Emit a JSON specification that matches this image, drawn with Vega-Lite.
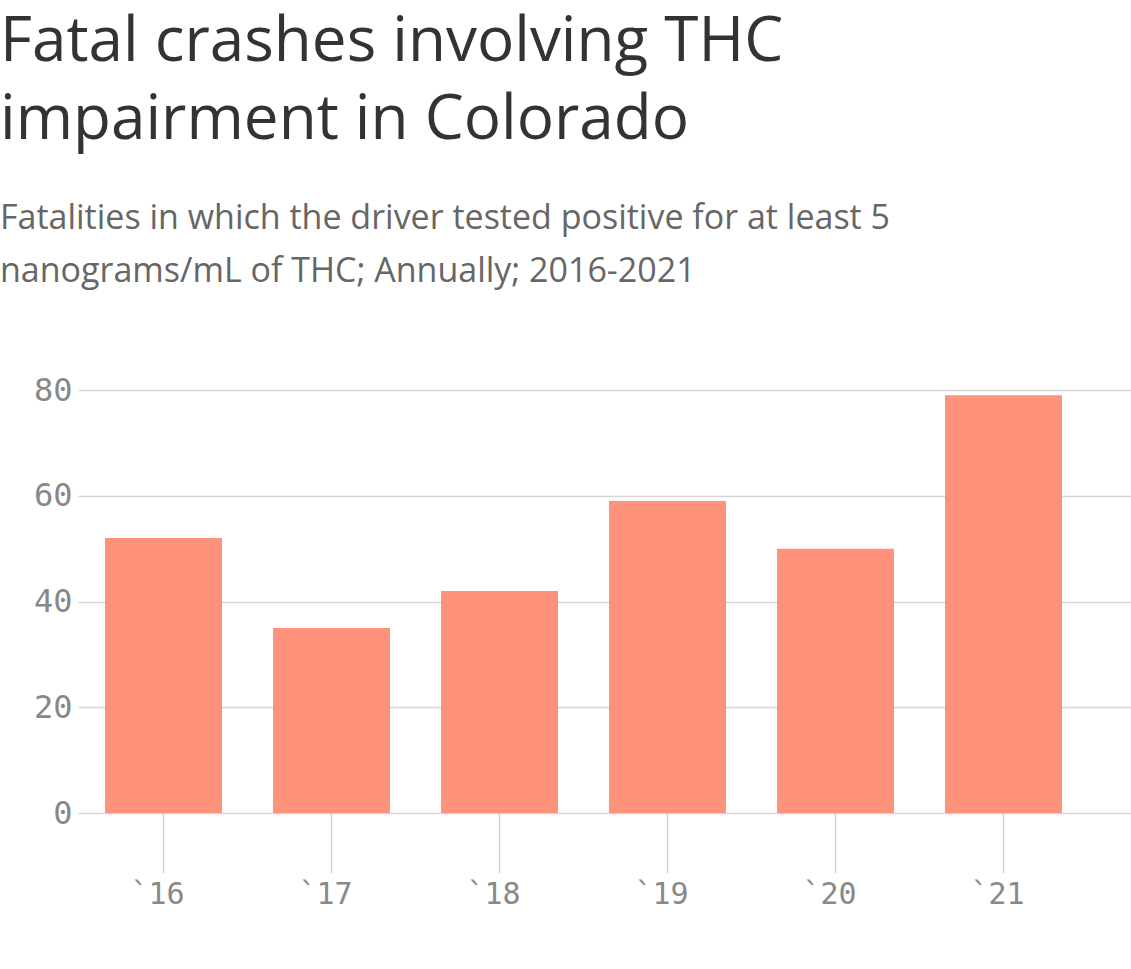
{
  "$schema": "https://vega.github.io/schema/vega-lite/v6.json",
  "width": 1053,
  "height": 423,
  "autosize": {"type": "none"},
  "padding": {"left": 78, "top": 390, "right": 0, "bottom": 156},
  "background": "white",
  "title": {
    "text": ["Fatal crashes involving THC", "impairment in Colorado"],
    "subtitle": ["Fatalities in which the driver tested positive for at least 5", "nanograms/mL of THC; Annually; 2016-2021"],
    "anchor": "start",
    "frame": "group",
    "dx": -78,
    "offset": 84,
    "font": "Open Sans",
    "fontSize": 62,
    "fontWeight": "normal",
    "color": "#333333",
    "lineHeight": 78,
    "subtitleFont": "Open Sans",
    "subtitleFontSize": 34,
    "subtitleColor": "#666666",
    "subtitleLineHeight": 53,
    "subtitlePadding": 50
  },
  "data": {
    "values": [
      {"year": "`16", "fatalities": 52},
      {"year": "`17", "fatalities": 35},
      {"year": "`18", "fatalities": 42},
      {"year": "`19", "fatalities": 59},
      {"year": "`20", "fatalities": 50},
      {"year": "`21", "fatalities": 79}
    ]
  },
  "mark": {"type": "bar", "color": "#FF927A"},
  "encoding": {
    "x": {
      "field": "year",
      "type": "nominal",
      "sort": null,
      "scale": {"paddingInner": 0.3036, "paddingOuter": 0.2857, "align": 0.28125},
      "axis": {
        "title": null,
        "domain": false,
        "ticks": true,
        "tickSize": 60,
        "tickColor": "#d0d0d0",
        "tickWidth": 1.5,
        "labelAngle": 0,
        "labelPadding": 6,
        "labelOffset": -6,
        "labelFont": "DejaVu Sans Mono",
        "labelFontSize": 30,
        "labelColor": "#888888",
        "grid": false
      }
    },
    "y": {
      "field": "fatalities",
      "type": "quantitative",
      "scale": {"domain": [0, 80], "nice": false},
      "axis": {
        "title": null,
        "domain": false,
        "ticks": false,
        "values": [0, 20, 40, 60, 80],
        "grid": true,
        "gridColor": "#d6d6d6",
        "gridWidth": 1.5,
        "labelPadding": 6,
        "labelFont": "DejaVu Sans Mono",
        "labelFontSize": 32,
        "labelColor": "#888888"
      }
    }
  },
  "config": {"view": {"stroke": null}}
}
